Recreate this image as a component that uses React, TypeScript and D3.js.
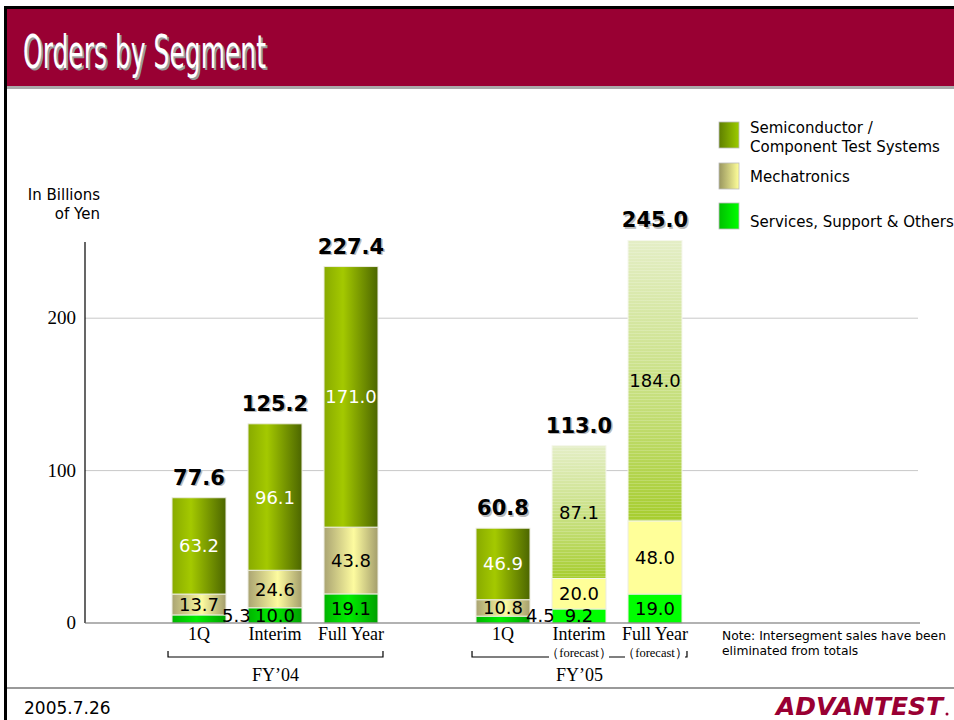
import React from 'react';
import { scaleBand, scaleLinear, stack } from 'd3';

const W = 954;
const H = 720;

// chart data (billions of yen)
const slots = ['FY04-1Q', 'FY04-Interim', 'FY04-Full', 'gap', 'FY05-1Q', 'FY05-Interim', 'FY05-Full'];
const barKeys = ['FY04-1Q', 'FY04-Interim', 'FY04-Full', 'FY05-1Q', 'FY05-Interim', 'FY05-Full'];
const periodLabels = ['1Q', 'Interim', 'Full Year', '1Q', 'Interim', 'Full Year'];
const isForecast = [false, false, false, false, true, true];
const services = [5.3, 10.0, 19.1, 4.5, 9.2, 19.0];
const mechatronics = [13.7, 24.6, 43.8, 10.8, 20.0, 48.0];
const semiconductor = [63.2, 96.1, 171.0, 46.9, 87.1, 184.0];
const totals = [77.6, 125.2, 227.4, 60.8, 113.0, 245.0];
const fiscalYears = ["FY\u201904", "FY\u201905"];
const fyGroups = [['FY04-1Q', 'FY04-Full'], ['FY05-1Q', 'FY05-Full']];
const yTicks = [0, 100, 200];
const legendLabels = [['Semiconductor /', 'Component Test Systems'], ['Mechatronics'], ['Services, Support & Others']];

const SANS = '"DejaVu Sans", Verdana, sans-serif';
const SERIF = '"Liberation Serif", "Times New Roman", serif';

const rows = barKeys.map((k, i) => ({
  key: k,
  services: services[i],
  mech: mechatronics[i],
  semi: semiconductor[i],
}));
const series = stack<any>().keys(['services', 'mech', 'semi'])(rows);

const x = scaleBand().domain(slots).range([161, 693]).paddingInner(0.29).paddingOuter(0.145);
const y = scaleLinear().domain([0, 250]).range([623, 242]);
const bw = x.bandwidth();

const fillFor = (key: string, forecast: boolean) => {
  if (key === 'semi') return 'url(#semiG)';
  if (key === 'mech') return forecast ? '#ffff99' : 'url(#mechG)';
  return forecast ? '#00ff00' : 'url(#servG)';
};

const App: React.FC = () => {
  return (
    <svg width={W} height={H} style={{ position: 'absolute', left: 0, top: 0, background: '#fff' }}>
      <defs>
        <linearGradient id="semiG" x1="0" x2="1" y1="0" y2="0">
          <stop offset="0" stopColor="#88aa00" />
          <stop offset="0.35" stopColor="#a4c900" />
          <stop offset="1" stopColor="#4c6600" />
        </linearGradient>
        <linearGradient id="mechG" x1="0" x2="1" y1="0" y2="0">
          <stop offset="0" stopColor="#aaa472" />
          <stop offset="0.55" stopColor="#fdfb9f" />
          <stop offset="1" stopColor="#a49e6c" />
        </linearGradient>
        <linearGradient id="servG" x1="0" x2="1" y1="0" y2="0">
          <stop offset="0" stopColor="#00b400" />
          <stop offset="0.45" stopColor="#00ee00" />
          <stop offset="1" stopColor="#00a000" />
        </linearGradient>
        <linearGradient id="semiFcBase" x1="0" x2="0" y1="0" y2="1">
          <stop offset="0" stopColor="#e4eec6" />
          <stop offset="0.6" stopColor="#c4de78" />
          <stop offset="1" stopColor="#a6cd2e" />
        </linearGradient>
        <pattern id="stripes" patternUnits="userSpaceOnUse" width="4" height="3">
          <rect width="4" height="1" fill="#ffffff" opacity="0.18" />
        </pattern>
        <linearGradient id="legSemi" x1="0" x2="1" y1="0" y2="0">
          <stop offset="0" stopColor="#5f7f00" />
          <stop offset="1" stopColor="#9ccc00" />
        </linearGradient>
        <linearGradient id="legMech" x1="0" x2="1" y1="0" y2="0">
          <stop offset="0" stopColor="#99965f" />
          <stop offset="1" stopColor="#ffff99" />
        </linearGradient>
        <linearGradient id="legServ" x1="0" x2="1" y1="0" y2="0">
          <stop offset="0" stopColor="#00c000" />
          <stop offset="1" stopColor="#00ff00" />
        </linearGradient>
      </defs>

      {/* frame and title bar */}
      <rect x={4} y={6} width={W - 4} height={3} fill="#000" />
      <rect x={4} y={6} width={3} height={H - 6} fill="#000" />
      <rect x={7} y={9} width={W - 7} height={77} fill="#990033" />
      <rect x={7} y={86} width={W - 7} height={3} fill="#aaaaaa" />
      <text x={25} y={70} fontFamily={SANS} fontSize={46} fill="#9a9a9a" textLength={243} lengthAdjust="spacingAndGlyphs">Orders by Segment</text>
      <text x={23} y={68} fontFamily={SANS} fontSize={46} fill="#fff" textLength={243} lengthAdjust="spacingAndGlyphs">Orders by Segment</text>

      {/* axis label */}
      <text x={100} y={200} textAnchor="end" fontFamily={SANS} fontSize={15} fill="#000">In Billions</text>
      <text x={100} y={219} textAnchor="end" fontFamily={SANS} fontSize={15} fill="#000">of Yen</text>

      {/* grid */}
      {yTicks.filter(t => t > 0).map(t => (
        <line key={t} x1={85} x2={918} y1={y(t)} y2={y(t)} stroke="#c8c8c8" strokeWidth={1} />
      ))}
      {yTicks.map(t => (
        <text key={t} x={76} y={y(t) + 6} textAnchor="end" fontFamily={SERIF} fontSize={19} fill="#000">{t}</text>
      ))}

      {/* bars */}
      {series.map(s => (
        <g key={s.key}>
          {s.map((d, i) => {
            const bx = x(barKeys[i])!;
            const fc = isForecast[i];
            const top = y(d[1]);
            const h = y(d[0]) - y(d[1]);
            return (
              <g key={i}>
                {s.key === 'semi' && fc ? (
                  <>
                    <rect x={bx} y={top} width={bw} height={h} fill="url(#semiFcBase)" stroke="#f4f6ea" strokeWidth={1} />
                    <rect x={bx} y={top} width={bw} height={h} fill="url(#stripes)" />
                  </>
                ) : (
                  <rect x={bx} y={top} width={bw} height={h} fill={fillFor(s.key as string, fc)} stroke="#ecece0" strokeWidth={1} />
                )}
              </g>
            );
          })}
        </g>
      ))}

      {/* segment labels */}
      {series.map(s => (
        <g key={'l' + s.key}>
          {s.map((d, i) => {
            const bx = x(barKeys[i])!;
            const v = d[1] - d[0];
            const small = v < 7;
            const cy = (y(d[0]) + y(d[1])) / 2;
            const color = s.key === 'semi' && !isForecast[i] ? '#fff' : '#000';
            return small ? (
              <text key={i} x={bx + bw - 4} y={y(0) - 1} fontFamily={SANS} fontSize={18} fill="#000">{v.toFixed(1)}</text>
            ) : (
              <text key={i} x={bx + bw / 2} y={cy + 6.5} textAnchor="middle" fontFamily={SANS} fontSize={18} fill={color}>{v.toFixed(1)}</text>
            );
          })}
        </g>
      ))}

      {/* totals */}
      {rows.map((r, i) => {
        const cx = x(barKeys[i])! + bw / 2;
        const ty = y(r.services + r.mech + r.semi) - 13;
        return (
          <g key={'t' + i}>
            <text x={cx + 1.5} y={ty + 1.5} textAnchor="middle" fontFamily={SANS} fontWeight="bold" fontSize={21} fill="#bbbbbb">{totals[i].toFixed(1)}</text>
            <text x={cx} y={ty} textAnchor="middle" fontFamily={SANS} fontWeight="bold" fontSize={21} fill="#000">{totals[i].toFixed(1)}</text>
          </g>
        );
      })}

      {/* axes */}
      <line x1={85} x2={85} y1={242} y2={y(0)} stroke="#000" strokeWidth={1.2} />
      <line x1={85} x2={920} y1={y(0)} y2={y(0)} stroke="#666" strokeWidth={1.2} />

      {/* x labels */}
      {barKeys.map((k, i) => (
        <text key={k} x={x(k)! + bw / 2} y={640} textAnchor="middle" fontFamily={SERIF} fontSize={18} fill="#000">{periodLabels[i]}</text>
      ))}

      {/* fiscal year brackets */}
      {fyGroups.map(([a, b], gi) => {
        const x1 = x(a)! - 4;
        const x2 = x(b)! + bw + 5;
        return (
          <g key={gi}>
            <path d={`M${x1},651 V657 H${x2} V651`} fill="none" stroke="#000" strokeWidth={1.2} />
            <text x={(x1 + x2) / 2} y={681} textAnchor="middle" fontFamily={SERIF} fontSize={18} fill="#000">{fiscalYears[gi]}</text>
          </g>
        );
      })}
      {barKeys.map((k, i) => isForecast[i] ? (
        <g key={'f' + k}>
          <rect x={x(k)! + bw / 2 - 30} y={646} width={60} height={15} fill="#fff" />
          <text x={x(k)! + bw / 2} y={657} textAnchor="middle" fontFamily={SERIF} fontSize={12.5} fill="#000">{'\uFF08forecast\uFF09'}</text>
        </g>
      ) : null)}

      {/* legend */}
      {legendLabels.map((lines, i) => {
        const sy = [122, 163, 203][i];
        const fills = ['url(#legSemi)', 'url(#legMech)', 'url(#legServ)'];
        const ty = [133, 182, 227][i];
        return (
          <g key={'lg' + i}>
            <rect x={719} y={sy} width={20} height={26} fill={fills[i]} stroke="#bbbbbb" strokeWidth={0.8} />
            {lines.map((t, j) => (
              <text key={j} x={750} y={ty + j * 19} fontFamily={SANS} fontSize={15} fill="#000">{t}</text>
            ))}
          </g>
        );
      })}

      {/* note */}
      <text x={722} y={640} fontFamily={SANS} fontSize={12.3} fill="#000">Note: Intersegment sales have been</text>
      <text x={722} y={655} fontFamily={SANS} fontSize={12.3} fill="#000">eliminated from totals</text>

      {/* footer */}
      <rect x={7} y={687} width={W - 7} height={2} fill="#999" />
      <text x={24} y={714} fontFamily={SANS} fontSize={17} fill="#000">2005.7.26</text>
      <text x={776} y={715} fontFamily={SANS} fontSize={25} fontWeight="bold" fontStyle="italic" fill="#990033" textLength={167} lengthAdjust="spacingAndGlyphs">ADVANTEST</text>
      <circle cx={947} cy={714} r={1.5} fill="#990033" />
    </svg>
  );
};

export default App;
